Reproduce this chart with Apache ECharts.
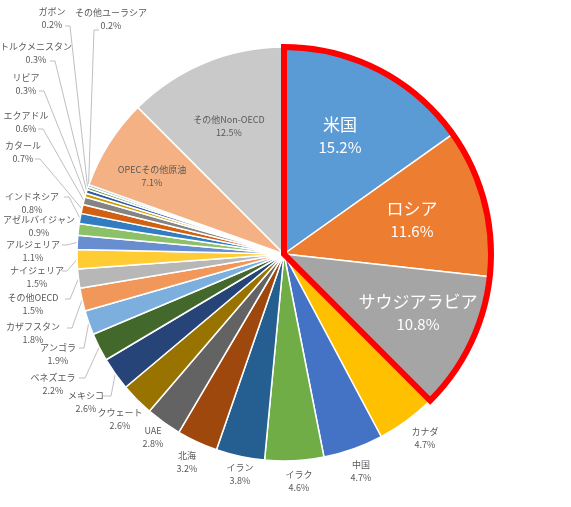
<!DOCTYPE html>
<html><head><meta charset="utf-8">
<script src="https://cdn.jsdelivr.net/npm/echarts/dist/echarts.min.js"></script>
<style>html,body{margin:0;padding:0;background:#fff}#c{width:571px;height:507px}</style>
</head><body><div id="c"></div>
<script>
// ---- data ----
const categories = ['米国','ロシア','サウジアラビア','カナダ','中国','イラク','イラン','北海','UAE','クウェート','メキシコ','ベネズエラ','アンゴラ','カザフスタン','その他OECD','ナイジェリア','アルジェリア','アゼルバイジャン','インドネシア','カタール','エクアドル','リビア','トルクメニスタン','ガボン','その他ユーラシア','OPECその他原油','その他Non-OECD'];
const shares = [15.2,11.6,10.8,4.7,4.7,4.6,3.8,3.2,2.8,2.6,2.6,2.2,1.9,1.8,1.5,1.5,1.1,0.9,0.8,0.7,0.6,0.3,0.3,0.2,0.2,7.1,12.5];
const highlighted = ['米国','ロシア','サウジアラビア'];

// ---- styles / layout ----
const sliceColors = ['#5B9BD5','#ED7D31','#A5A5A5','#FFC000','#4472C4','#70AD47','#255E91','#9E480E','#636363','#997300','#264478','#43682B','#7CAFDD','#F1975A','#B7B7B7','#FFCD33','#698ED0','#8CC168','#327DC2','#D26012','#848484','#CC9A00','#335AA1','#5A8A39','#9DC3E6','#F4B183','#C9C9C9'];
const whiteInside = ['米国','ロシア','サウジアラビア'];
const labelSpots = [[340,136],[412,220],[418,313],[425,438],[361,471],[299,481],[240,474],[187,462],[153,437],[120,419],[86,402],[53,384],[58,354],[33,333],[33,304],[37,277],[33,251],[39,226],[32,203],[23,152],[26,122],[26,84],[36,53],[52,18],[111,19],[152,176],[229,126]];
// [endX, endY, elbowX] for leader lines
const lineAnchors = [null,null,null,null,null,null,null,null,null,null,[103,396,111],[79,378,85],[79,348,84],[67,328,72],[65,299,70],[62,271,67],[62,245,67],null,[64,197,69],[35,159,40],[38,129,43],[39,91,44],[50,61,55],[65,26,70],[99,30,94],null,null];

const CX = 284, CY = 254, R = 207;
const FONT = '"Noto Sans CJK JP", "Noto Sans", sans-serif';

const pieData = categories.map((name, i) => {
  const big = whiteInside.includes(name);
  return {
    name: name,
    value: shares[i],
    itemStyle: { color: sliceColors[i] },
    label: big ? {
      formatter: (p) => '{n|' + p.name + '}\n{p|' + p.value.toFixed(1) + '%}',
      rich: {
        n: { fontSize: 17, color: '#ffffff', lineHeight: 23, fontFamily: FONT },
        p: { fontSize: 15, color: '#ffffff', lineHeight: 23, fontFamily: FONT }
      }
    } : {},
    labelLine: { show: !!lineAnchors[i] }
  };
});

const hiSum = shares.filter((v, i) => highlighted.includes(categories[i])).reduce((a, b) => a + b, 0);
const total = shares.reduce((a, b) => a + b, 0);

const chart = echarts.init(document.getElementById('c'), null, { renderer: 'canvas' });
chart.setOption({
  animation: false,
  backgroundColor: '#ffffff',
  series: [{
    type: 'pie',
    center: [CX, CY],
    radius: R,
    startAngle: 90,
    clockwise: true,
    avoidLabelOverlap: false,
    emphasis: { disabled: true },
    itemStyle: { borderColor: '#ffffff', borderWidth: 1.5 },
    label: {
      show: true,
      position: 'outside',
      color: '#595959',
      fontSize: 9,
      lineHeight: 13,
      fontFamily: FONT,
      overflow: 'none',
      formatter: (p) => p.name + '\n' + p.value.toFixed(1) + '%'
    },
    labelLine: { show: true, smooth: false, length: 5, length2: 5, lineStyle: { color: '#BFBFBF', width: 1 } },
    labelLayout: function (p) {
      if (p.seriesIndex !== 0) return {};
      const i = p.dataIndex;
      const s = labelSpots[i];
      const out = { x: s[0], y: s[1], align: 'center', verticalAlign: 'middle' };
      const a = lineAnchors[i];
      if (a && p.labelLinePoints && p.labelLinePoints[0]) {
        const e = p.labelLinePoints[0];
        out.labelLinePoints = [[e[0], e[1]], [a[2], a[1]], [a[0], a[1]]];
      }
      return out;
    },
    data: pieData
  }, {
    type: 'pie',
    center: [CX, CY],
    radius: R,
    startAngle: 90,
    clockwise: true,
    silent: true,
    emphasis: { disabled: true },
    label: { show: false },
    labelLine: { show: false },
    data: [
      { name: 'hi', value: hiSum, itemStyle: { color: 'rgba(0,0,0,0)', borderColor: '#FF0000', borderWidth: 6, borderJoin: 'miter' } },
      { name: 'rest', value: total - hiSum, itemStyle: { color: 'rgba(0,0,0,0)', borderWidth: 0 } }
    ]
  }]
});
</script>
</body></html>
